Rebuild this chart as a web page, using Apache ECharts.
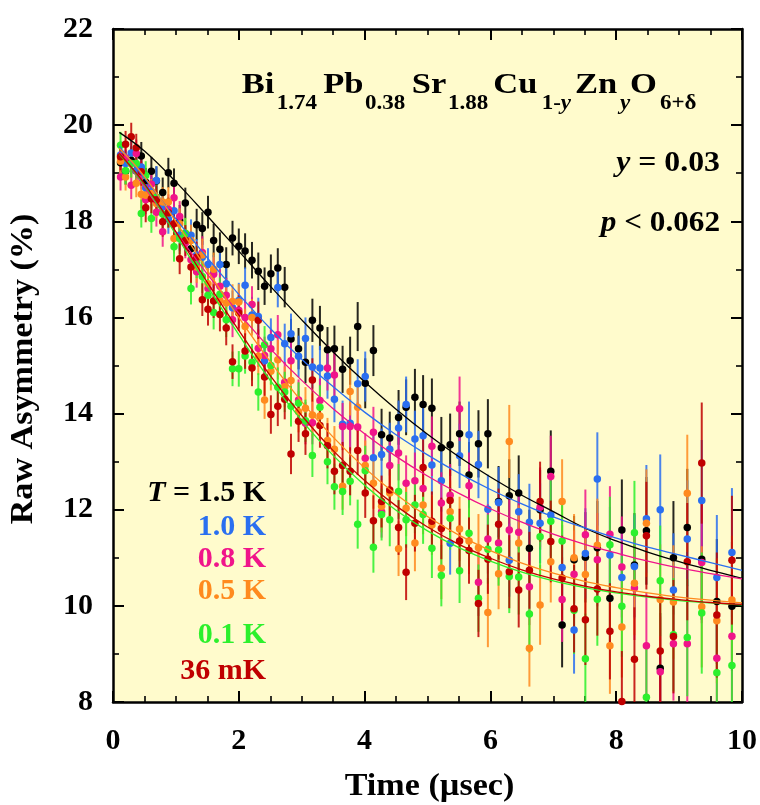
<!DOCTYPE html>
<html><head><meta charset="utf-8">
<script src="https://cdn.jsdelivr.net/npm/echarts@6/dist/echarts.min.js"></script>
<style>html,body{margin:0;padding:0;background:#fff}#c{width:760px;height:805px}</style>
</head><body><div id="c"></div>
<script>
// ---- data ----
const timeUs = [0.12,0.20,0.29,0.37,0.45,0.52,0.61,0.69,0.79,0.88,
 0.97,1.06,1.15,1.24,1.33,1.42,1.51,1.60,1.70,1.80,
 1.90,2.00,2.10,2.21,2.31,2.41,2.51,2.62,2.73,2.83,
 2.95,3.06,3.17,3.29,3.41,3.52,3.65,3.77,3.89,4.01,
 4.14,4.27,4.40,4.54,4.66,4.80,4.93,5.07,5.22,5.36,
 5.51,5.66,5.81,5.96,6.13,6.30,6.45,6.62,6.79,6.96,
 7.14,7.33,7.51,7.70,7.90,8.09,8.29,8.48,8.70,8.91,
 9.13,9.36,9.60,9.84];
const errBar = [0.28,0.28,0.29,0.29,0.29,0.30,0.30,0.30,0.31,0.31,
 0.31,0.32,0.32,0.33,0.33,0.34,0.34,0.35,0.35,0.36,
 0.36,0.37,0.37,0.38,0.39,0.39,0.40,0.41,0.42,0.42,
 0.43,0.44,0.45,0.46,0.47,0.48,0.49,0.50,0.51,0.52,
 0.53,0.54,0.55,0.57,0.58,0.59,0.61,0.62,0.64,0.65,
 0.67,0.69,0.70,0.72,0.74,0.76,0.78,0.80,0.83,0.85,
 0.88,0.91,0.94,0.97,1.00,1.05,1.08,1.12,1.15,1.18,
 1.22,1.26,1.30,1.34];
const asym15K = [19.22,19.04,19.27,19.05,19.36,18.81,19.04,18.84,18.60,19.01,
 18.79,18.02,18.38,17.43,17.93,17.85,18.19,17.60,17.42,17.10,
 17.65,17.48,17.38,17.19,16.96,16.65,16.91,17.03,16.63,15.55,
 15.35,15.07,15.94,15.78,15.33,15.35,14.92,15.10,15.81,14.63,
 15.31,13.56,13.49,13.92,14.13,14.34,14.19,14.11,13.29,13.35,
 13.58,12.72,13.37,13.58,12.17,12.29,12.35,11.20,12.00,12.80,
 9.60,10.96,11.01,11.21,10.16,11.58,10.85,11.56,8.70,11.00,
 11.63,10.97,10.09,9.99];
const asym10K = [19.38,19.20,19.42,19.05,19.13,18.70,18.62,18.85,18.30,18.05,
 18.22,17.71,17.69,17.71,17.30,17.25,17.10,16.95,17.10,16.70,
 16.20,16.35,16.67,16.05,16.02,15.10,15.58,16.62,15.45,15.66,
 15.19,15.56,14.97,14.95,14.78,14.30,13.78,13.80,14.62,14.77,
 13.08,13.15,13.26,13.70,14.19,13.47,13.54,12.93,12.60,11.30,
 13.12,13.56,12.94,12.01,12.15,10.95,11.96,11.74,11.72,11.89,
 10.80,9.50,11.09,12.64,11.06,10.59,10.82,11.81,12.00,10.33,
 11.39,12.19,10.59,11.11];
const asym08K = [18.92,19.32,18.75,19.41,18.95,18.45,18.77,18.19,17.78,18.25,
 18.49,18.10,17.55,17.20,16.95,17.35,16.60,16.90,16.65,16.46,
 15.95,16.15,16.00,16.27,15.36,15.21,15.35,15.64,14.65,15.10,
 14.28,13.80,13.81,14.27,14.95,14.80,13.73,13.73,13.72,13.07,
 13.61,11.96,12.92,13.18,12.55,12.60,12.44,13.32,12.14,12.30,
 14.10,12.50,10.49,11.39,11.31,11.58,11.53,10.40,12.05,12.69,
 10.13,10.66,11.48,10.96,11.49,10.81,10.37,9.17,8.63,9.21,
 9.21,10.90,8.91,9.37];
const asym05K = [19.25,18.92,19.20,18.79,18.56,18.54,18.58,18.37,18.40,18.40,
 17.64,17.95,17.75,17.60,17.05,17.30,16.70,17.00,16.35,16.30,
 16.33,16.32,15.81,16.00,15.19,14.28,14.88,15.12,14.56,14.69,
 14.04,14.11,13.97,13.95,13.44,13.26,12.49,14.46,14.13,12.92,
 12.55,12.07,12.35,11.19,12.03,11.31,12.10,11.68,10.78,11.96,
 11.60,11.35,11.21,9.86,10.67,13.42,11.31,9.12,10.02,10.92,
 12.17,11.00,10.65,11.26,9.17,9.56,10.47,11.72,10.13,10.08,
 12.34,9.98,9.69,10.12];
const asym01K = [19.58,19.05,19.20,19.20,18.16,18.95,18.06,18.50,18.15,18.17,
 17.47,17.64,17.75,16.60,17.15,16.85,16.46,16.10,16.48,15.95,
 14.93,14.93,15.20,15.07,14.45,15.43,15.00,14.55,14.45,14.15,
 14.22,13.85,13.13,14.13,13.00,12.48,12.38,12.59,11.70,12.81,
 11.22,11.90,11.79,12.38,11.79,12.10,11.90,11.20,10.63,11.82,
 10.73,11.51,10.16,11.18,11.16,10.61,10.60,9.83,11.44,11.76,
 11.35,9.91,8.90,10.14,11.27,9.99,11.52,8.10,10.52,9.40,
 9.34,9.85,8.61,8.76];
const asym36mK = [19.34,19.60,19.76,19.53,19.03,18.28,18.47,18.45,17.99,18.18,
 17.95,17.22,17.60,17.05,17.25,16.37,16.17,16.34,16.06,15.78,
 15.08,16.09,15.30,14.95,15.94,14.76,13.98,14.15,14.30,13.16,
 13.84,13.58,14.70,13.75,13.33,12.80,12.92,12.80,13.23,12.35,
 11.77,12.17,12.41,11.63,10.70,11.72,12.88,11.76,11.61,12.19,
 11.35,11.15,10.05,10.97,11.70,10.71,10.33,10.74,12.17,11.34,
 10.58,9.94,9.71,10.35,9.47,8.01,8.89,11.46,9.06,9.36,
 10.92,12.97,9.81,10.95];
// fit curves
const fitTime = [0.1,0.5,1,1.5,2,2.5,3,3.5,4,4.5,5,5.5,6,6.5,7,7.5,8,8.5,9,9.5,10];
const fit15K = [19.85,19.46,18.82,18.11,17.38,16.65,15.95,15.28,14.66,14.09,13.57,13.10,12.68,12.30,11.96,11.62,11.35,11.12,10.92,10.74,10.57];
const fit10K = [19.56,18.90,18.05,17.24,16.48,15.77,15.13,14.56,14.03,13.56,13.14,12.76,12.42,12.12,11.85,11.62,11.41,11.22,11.06,10.90,10.74];
const fit08K = [19.45,18.71,17.78,16.90,16.09,15.35,14.69,14.10,13.58,13.11,12.70,12.34,12.02,11.74,11.49,11.28,11.10,10.93,10.79,10.67,10.56];
const fit05K = [19.52,18.93,17.99,16.98,16.00,15.08,14.25,13.51,12.87,12.32,11.86,11.47,11.15,10.89,10.68,10.51,10.38,10.27,10.18,10.12,10.06];
const fit01K = [19.40,18.75,17.72,16.65,15.64,14.69,13.86,13.13,12.51,11.99,11.56,11.21,10.93,10.70,10.52,10.38,10.27,10.18,10.11,10.06,10.02];
const fit36mK = [19.41,18.78,17.78,16.73,15.73,14.79,13.96,13.23,12.61,12.08,11.64,11.28,10.99,10.75,10.56,10.41,10.29,10.20,10.13,10.07,10.03];
const legendLabels = ['1.5 K','1.0 K','0.8 K','0.5 K','0.1 K','36 mK'];
const xTicks = {min:0, max:10, interval:2};
const yTicks = {min:8, max:22, interval:2};

// ---- styling ----
const colors = ['#000000','#2A6FF0','#F0148A','#FF8A1E','#2CF02C','#C00000'];
const asymSets = [asym15K, asym10K, asym08K, asym05K, asym01K, asym36mK];
const fitSets = [fit15K, fit10K, fit08K, fit05K, fit01K, fit36mK];
const FONT = "'Liberation Serif','Times New Roman',Times,serif";

const barSeries = asymSets.map((arr, k) => ({
  type: 'custom', name: legendLabels[k] + ' err', clip: true, silent: true,
  data: arr.map((v, i) => [timeUs[i], v, errBar[i]]),
  renderItem: (params, api) => {
    const t = api.value(0), v = api.value(1), e = api.value(2);
    const p1 = api.coord([t, v - e]), p2 = api.coord([t, v + e]);
    return {type: 'line', shape: {x1: p1[0], y1: p1[1], x2: p2[0], y2: p2[1]},
      style: {stroke: colors[k], lineWidth: 2, opacity: 0.85}};
  }
}));
const fitSeries = fitSets.map((arr, k) => ({
  type: 'line', name: legendLabels[k] + ' fit', silent: true, symbol: 'none',
  smooth: 0.4, data: arr.map((v, i) => [fitTime[i], v]),
  lineStyle: {color: colors[k], width: 1.3}
}));
const dotSeries = asymSets.map((arr, k) => ({
  type: 'scatter', name: legendLabels[k], silent: true, symbol: 'circle', symbolSize: 7.5,
  data: arr.map((v, i) => [timeUs[i], v]),
  itemStyle: {color: colors[k], opacity: 1}
}));

const axisLineStyle = {color: '#000', width: 2.5};
function xAx(pos, showLabel) {
  return {type: 'value', position: pos, min: xTicks.min, max: xTicks.max, interval: xTicks.interval,
    axisLine: {show: true, onZero: false, lineStyle: axisLineStyle},
    axisTick: {show: true, inside: true, length: 11, lineStyle: {color: '#000', width: 2}},
    minorTick: {show: true, splitNumber: 4, length: 6, lineStyle: {color: '#000', width: 1.6}},
    splitLine: {show: false},
    axisLabel: {show: showLabel, fontSize: 30, fontWeight: 'bold', fontFamily: FONT, color: '#000', margin: 24}
  };
}
function yAx(pos, showLabel) {
  return {type: 'value', position: pos, min: yTicks.min, max: yTicks.max, interval: yTicks.interval,
    axisLine: {show: true, onZero: false, lineStyle: axisLineStyle},
    axisTick: {show: true, inside: true, length: 11, lineStyle: {color: '#000', width: 2}},
    minorTick: {show: true, splitNumber: 2, length: 6, lineStyle: {color: '#000', width: 1.6}},
    splitLine: {show: false},
    axisLabel: {show: showLabel, fontSize: 30, fontWeight: 'bold', fontFamily: FONT, color: '#000', margin: 20}
  };
}

function tok(size, italic, color) {
  return {fontSize: size, fontWeight: 'bold', fontStyle: italic ? 'italic' : 'normal', fontFamily: FONT, fill: color || '#000'};
}
function txt(x, y, text, size, opts) {
  opts = opts || {};
  return {type: 'text', x: x, y: y, scaleX: opts.sx || 1, rotation: opts.rot || 0, silent: true, z: 100,
    style: {text: text, fontSize: size, fontWeight: 'bold', fontFamily: FONT, fill: opts.color || '#000',
      textAlign: opts.align || 'left', textVerticalAlign: 'middle',
      rich: {i: tok(size, true, opts.color), n: tok(size, false, opts.color)}}};
}

const graphics = [];
// formula Bi1.74Pb0.38Sr1.88Cu1-yZnyO6+δ
const mainY = 84.8, subY = 103.9, SX = 1.15;
[[241.7,'{n|Bi}',0],[276.7,'{n|1.74}',1],[323.3,'{n|Pb}',0],[365,'{n|0.38}',1],
 [411.7,'{n|Sr}',0],[448,'{n|1.88}',1],[493.3,'{n|Cu}',0],[541.7,'{n|1-}{i|y}',1],
 [575,'{n|Zn}',0],[620,'{i|y}',1],[630,'{n|O}',0],[660,'{n|6+δ}',1]].forEach(p => {
  graphics.push(txt(p[0], p[2] ? subY : mainY, p[1], p[2] ? 20 : 30, {sx: SX}));
});
graphics.push(txt(720, 162.8, '{i|y}{n| = 0.03}', 30, {align: 'right', sx: 1.06}));
graphics.push(txt(720, 222.8, '{i|p}{n| < 0.062}', 30, {align: 'right', sx: 1.04}));
// temperature labels
const legY = [493, 527, 559, 591, 635, 671];
legendLabels.forEach((lab, k) => {
  const s = k === 0 ? '{i|T}{n| = ' + lab + '}' : '{n|' + lab + '}';
  graphics.push(txt(266, legY[k], s, 30, {align: 'right', color: colors[k]}));
});
// axis titles
graphics.push(txt(429.5, 786.7, '{n|Time (µsec)}', 31, {align: 'center', sx: 1.1}));
graphics.push(txt(24, 369, '{n|Raw Asymmetry (%)}', 31, {align: 'center', sx: 1.1, rot: Math.PI / 2}));

const chart = echarts.init(document.getElementById('c'), null, {renderer: 'canvas'});
chart.setOption({
  animation: false,
  backgroundColor: '#ffffff',
  grid: {left: 113, right: 18, top: 29, bottom: 103, show: true, backgroundColor: '#FFFBCC', borderWidth: 0},
  xAxis: [xAx('bottom', true), xAx('top', false)],
  yAxis: [yAx('left', true), yAx('right', false)],
  series: [...barSeries, ...fitSeries, ...dotSeries],
  graphic: graphics
});
</script></body></html>
